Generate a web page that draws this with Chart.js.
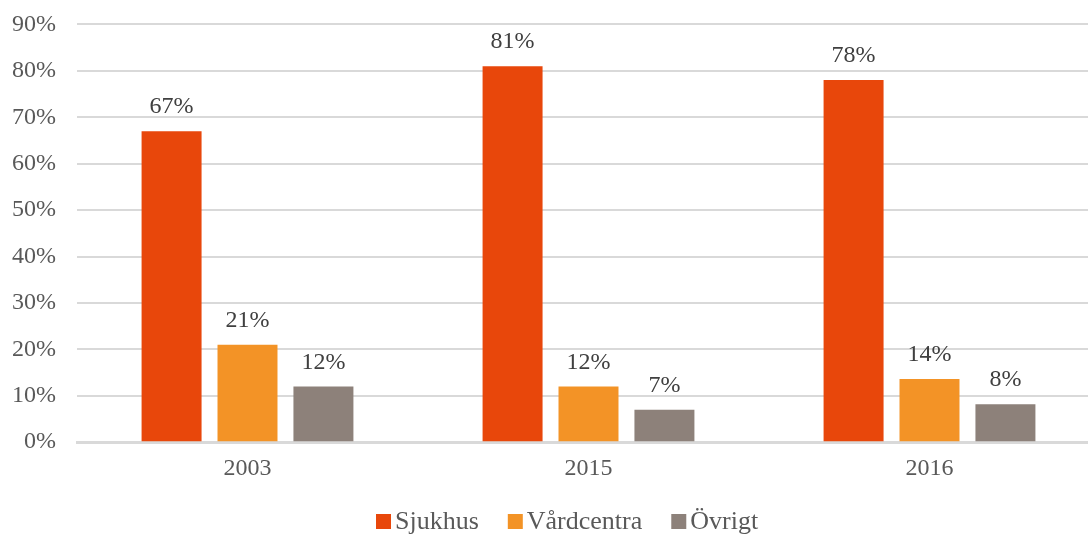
<!DOCTYPE html>
<html>
<head>
<meta charset="utf-8">
<script src="https://cdn.jsdelivr.net/npm/chart.js@4.4.1/dist/chart.umd.min.js"></script>
<style>
  html, body { margin: 0; padding: 0; background: #fff; overflow: hidden; }
  #wrap { width: 1100px; height: 547px; position: relative; margin-top: -11px; }
</style>
</head>
<body>
<div id="wrap"><canvas id="chart"></canvas></div>
<script>
// ── Data ────────────────────────────────────────────────
const years      = ["2003", "2015", "2016"];
const sjukhus    = [67, 81, 78];
const vardcentra = [21, 12, 13.6];
const ovrigt     = [12, 7, 8.2];

const FONT = "'Liberation Serif', 'Times New Roman', serif";

// Etiketter ovanför staplarna
const valueLabels = {
  id: "valueLabels",
  afterDatasetsDraw(chart) {
    const ctx = chart.ctx;
    ctx.save();
    ctx.font = `24px ${FONT}`;
    ctx.fillStyle = "#404040";
    ctx.textAlign = "center";
    ctx.textBaseline = "middle";
    chart.data.datasets.forEach((ds, i) => {
      chart.getDatasetMeta(i).data.forEach((bar, j) => {
        ctx.fillText(`${Math.round(ds.data[j])}%`, bar.x, bar.y - 24);
      });
    });
    ctx.restore();
  },
};

// Egen legend längst ner (tätare avstånd än Chart.js standard)
const bottomLegend = {
  id: "bottomLegend",
  afterDraw(chart) {
    const ctx = chart.ctx;
    const y = 532;
    let x = 376;
    ctx.save();
    ctx.font = `26px ${FONT}`;
    ctx.textBaseline = "middle";
    ctx.textAlign = "left";
    chart.data.datasets.forEach(ds => {
      ctx.fillStyle = ds.backgroundColor;
      ctx.fillRect(x, y - 7, 15, 15);
      ctx.fillStyle = "#595959";
      ctx.fillText(ds.label, x + 19, y + 1);
      x += 19 + ctx.measureText(ds.label).width + 29;
    });
    ctx.restore();
  },
};

new Chart(document.getElementById("chart"), {
  type: "bar",
  data: {
    labels: years,
    datasets: [
      { label: "Sjukhus",    data: sjukhus,    backgroundColor: "#E8470B" },
      { label: "Vårdcentra", data: vardcentra, backgroundColor: "#F39326" },
      { label: "Övrigt",     data: ovrigt,     backgroundColor: "#8D817A" },
    ],
  },
  options: {
    responsive: true,
    maintainAspectRatio: false,
    animation: false,
    layout: { padding: { top: 0, right: 0, bottom: 41, left: 0 } },
    datasets: { bar: { categoryPercentage: 0.668, barPercentage: 0.79 } },
    plugins: {
      legend: { display: false },
      tooltip: { enabled: false },
    },
    scales: {
      x: {
        grid: { display: false, drawTicks: false },
        border: { color: "#d9d9d9", width: 3 },
        ticks: { font: { family: FONT, size: 24 }, color: "#595959", padding: 12 },
      },
      y: {
        min: 0,
        max: 90,
        afterFit: s => { s.width = 77; },
        grid: { color: "#d9d9d9", lineWidth: 2, drawTicks: false },
        border: { display: false },
        ticks: {
          stepSize: 10,
          padding: 21,
          font: { family: FONT, size: 24 },
          color: "#595959",
          callback: v => `${v}%`,
        },
      },
    },
  },
  plugins: [valueLabels, bottomLegend],
});
</script>
</body>
</html>
